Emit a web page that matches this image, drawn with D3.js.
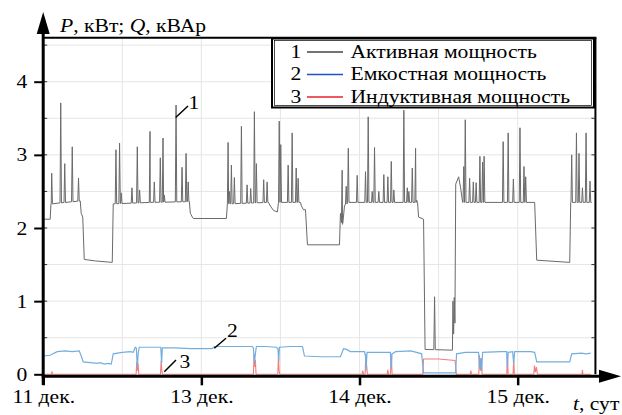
<!DOCTYPE html>
<html><head><meta charset="utf-8">
<script src="https://cdn.jsdelivr.net/npm/d3@7"></script>
<style>body{margin:0;background:#fff}</style></head>
<body><svg id="c" width="622" height="415"></svg>
<script>
// ---- data (time in hours from 11 дек. 00:00, power in kW / kVAr) ----
const xTickHours = [0, 24, 48, 72];
const xTickLabels = ["11 дек.", "13 дек.", "14 дек.", "15 дек."];
const yTicks = [0, 1, 2, 3, 4];
const legendNums = ["1", "2", "3"];
const legendLabels = ["Активная мощность", "Емкостная мощность", "Индуктивная мощность"];

// active power: base level
const activeBase = [[0,2.12],[1.06,2.12],[1.22,2.33],[5.62,2.37],[5.77,2.2],[6.0,2.15],[6.23,1.57],[7.9,1.55],[10.48,1.53],[10.63,2.33],[16.25,2.35],[22.18,2.36],[22.33,2.2],[22.63,2.15],[22.79,2.13],[27.8,2.13],[27.95,2.33],[34.18,2.35],[34.48,2.3],[34.94,2.24],[35.54,2.22],[35.7,2.35],[39.04,2.35],[39.19,2.3],[39.49,2.25],[39.8,2.25],[40.1,1.77],[44.96,1.77],[45.11,2.2],[45.42,2.05],[45.72,2.3],[46.18,2.35],[56.81,2.35],[56.96,2.15],[57.72,2.12],[57.95,0.34],[62.1,0.33],[62.18,1.0],[62.28,0.55],[62.38,1.05],[62.48,0.7],[62.6,2.6],[63.04,2.7],[63.34,2.55],[63.65,2.35],[74.58,2.35],[74.89,1.56],[79.9,1.53],[80.05,2.35],[83.24,2.35]];
// active power: short peaks [time, peak]
const activeSpikes = [[1.29,2.75],[2.66,3.71],[3.27,2.88],[4.41,3.11],[5.36,2.68],[11.04,3.07],[11.59,3.16],[11.85,2.48],[13.47,2.55],[14.28,3.11],[14.63,2.52],[16.21,3.32],[16.86,2.63],[17.77,2.96],[18.18,3.23],[18.38,2.45],[20.16,3.68],[21.07,2.83],[21.68,3.02],[22.0,2.63],[28.06,3.17],[28.25,2.5],[28.56,2.86],[29.01,2.69],[30.08,3.39],[30.94,2.59],[31.49,2.54],[32.05,3.59],[32.35,2.88],[33.46,2.66],[33.98,2.63],[35.82,3.46],[36.05,3.14],[37.17,2.86],[37.78,3.3],[38.39,2.82],[38.69,2.68],[45.37,2.79],[45.98,2.57],[46.3,3.09],[47.65,2.72],[48.91,2.77],[49.32,3.52],[49.93,2.5],[50.28,3.1],[50.93,2.5],[51.69,2.73],[52.3,2.7],[52.82,2.91],[53.21,2.52],[54.73,3.61],[55.25,2.55],[55.49,2.5],[56.01,2.82],[56.51,3.09],[56.68,2.38],[59.39,1.06],[63.82,2.84],[64.05,3.48],[64.71,2.68],[65.27,2.63],[65.7,2.62],[66.27,2.98],[66.68,2.9],[66.91,2.98],[69.8,3.18],[70.56,3.3],[71.35,2.67],[72.35,3.37],[72.96,2.84],[73.22,2.7],[80.2,3.0],[80.92,3.3],[81.31,3.02],[81.83,2.55],[82.38,3.3],[82.98,2.64]];

// capacitive reactive power
const capacitive = [[0,0.25],[1.06,0.26],[1.67,0.29],[2.13,0.31],[3.34,0.32],[4.41,0.31],[5.47,0.32],[5.77,0.25],[6.08,0.17],[7.14,0.16],[8.2,0.15],[8.66,0.16],[9.27,0.14],[9.87,0.15],[10.33,0.14],[10.63,0.28],[11.99,0.3],[13.22,0.31],[13.67,0.3],[13.97,0.37],[14.13,0.36],[14.28,0.1],[14.43,0.3],[14.58,0.37],[16.25,0.37],[17.77,0.37],[17.85,0.36],[17.97,0.15],[18.08,0.36],[20.0,0.36],[22.33,0.35],[23.85,0.35],[25.67,0.35],[25.97,0.38],[28.41,0.38],[31.74,0.38],[31.9,0.36],[32.05,0.15],[32.2,0.28],[32.35,0.38],[33.72,0.38],[35.39,0.37],[35.62,0.35],[35.74,0.18],[35.85,0.37],[37.52,0.38],[39.34,0.38],[39.65,0.25],[42.08,0.24],[45.11,0.24],[45.57,0.35],[46.03,0.34],[46.63,0.31],[48.76,0.31],[48.91,0.25],[48.99,0.05],[49.14,0.3],[51.2,0.3],[52.67,0.3],[52.82,0.08],[52.94,0.28],[53.47,0.31],[55.75,0.32],[56.66,0.3],[57.42,0.28],[57.72,0.02],[60.3,0.02],[62.58,0.02],[62.73,0.28],[64.1,0.3],[66.07,0.3],[66.23,0.08],[66.38,0.22],[66.53,0.05],[66.68,0.3],[69.42,0.31],[70.33,0.31],[70.43,0.1],[70.56,0.3],[71.24,0.31],[71.39,0.15],[71.54,0.31],[74.0,0.31],[74.58,0.3],[74.89,0.17],[78.54,0.17],[79.9,0.17],[80.2,0.28],[81.68,0.29],[82.38,0.28],[83.09,0.29]];

// inductive reactive power
const inductive = [[0,0],[1.25,0],[1.32,0.04],[1.4,0],[14.1,0],[14.2,0.17],[14.3,0.05],[14.4,0.15],[14.5,0],[17.8,0],[17.9,0.19],[18.0,0.05],[18.1,0],[31.9,0],[32.0,0.28],[32.1,0.1],[32.2,0.2],[32.3,0],[35.6,0],[35.7,0.25],[35.8,0.05],[35.9,0],[48.4,0],[48.5,0.05],[48.6,0],[48.85,0],[48.95,0.28],[49.1,0.1],[49.2,0],[52.2,0],[52.3,0.06],[52.4,0],[52.7,0],[52.8,0.28],[52.95,0],[57.6,0],[57.72,0.21],[60.0,0.21],[62.5,0.19],[62.7,0],[64.8,0],[64.9,0.05],[65.0,0],[66.1,0],[66.2,0.26],[66.35,0.05],[66.5,0.22],[66.6,0],[70.35,0],[70.45,0.26],[70.55,0],[71.3,0],[71.4,0.2],[71.5,0],[74.45,0],[74.55,0.12],[74.7,0.03],[74.85,0.1],[75.0,0],[81.75,0],[81.83,0.06],[81.9,0],[83.1,0]];

// ---- drawing ----
const FONT = "'Liberation Serif'";
const svg = d3.select("#c");
const SX = 1.2;
const x = d3.scaleLinear().domain([0, 84.1]).range([43.2, 597.4]);
const y = d3.scaleLinear().domain([0, 4]).range([374.3, 81.7]);
const yTop = 4.6;
const xL = x(0), xR = x(83.8), yB = y(0), yT = y(yTop);

function txt(g, px, py, anchor) {
  return g.append("text").attr("transform", `translate(${px},${py}) scale(${SX},1)`)
    .attr("text-anchor", anchor).style("font-family", FONT).style("font-size", "18px").attr("fill", "#000");
}

// grid
const grid = svg.append("g").attr("stroke", "#e6e6e6").attr("stroke-width", 1);
d3.range(0.5, 4.6, 0.5).forEach(v => grid.append("line").attr("x1", xL).attr("x2", xR).attr("y1", y(v)).attr("y2", y(v)));
d3.range(12, 84, 12).forEach(h => grid.append("line").attr("x1", x(h)).attr("x2", x(h)).attr("y1", yT).attr("y2", yB));

// build active series from base + spikes
const baseAt = t => {
  const i = d3.bisector(d => d[0]).right(activeBase, t);
  if (i <= 0) return activeBase[0][1];
  if (i >= activeBase.length) return activeBase[activeBase.length - 1][1];
  const a = activeBase[i - 1], b = activeBase[i];
  return a[1] + (b[1] - a[1]) * (t - a[0]) / (b[0] - a[0]);
};
const active = activeBase.slice();
activeSpikes.forEach(([t, p]) => {
  const b = baseAt(t);
  active.push([t - 0.11, b], [t, p], [t + 0.11, b]);
});
active.sort((a, b) => a[0] - b[0]);

const line = d3.line().x(d => x(d[0])).y(d => y(d[1]));
svg.append("path").datum(inductive).attr("d", line).attr("fill", "none").attr("stroke", "#f27f7f").attr("stroke-width", 1.1);
svg.append("path").datum(capacitive).attr("d", line).attr("fill", "none").attr("stroke", "#74aedd").attr("stroke-width", 1.2);
svg.append("path").datum(active).attr("d", line).attr("fill", "none").attr("stroke", "#6a6a6a").attr("stroke-width", 1);

// frame (top, right)
svg.append("line").attr("x1", xL).attr("x2", xR + 1).attr("y1", yT).attr("y2", yT).attr("stroke", "#000").attr("stroke-width", 2);
svg.append("line").attr("x1", xR).attr("x2", xR).attr("y1", yT).attr("y2", yB).attr("stroke", "#000").attr("stroke-width", 2);

// minor inner ticks
const minor = svg.append("g").attr("stroke", "#333").attr("stroke-width", 1);
d3.range(0.5, 4.6, 0.5).forEach(v => {
  minor.append("line").attr("x1", xL).attr("x2", xL + 4).attr("y1", y(v)).attr("y2", y(v));
  minor.append("line").attr("x1", xR - 4).attr("x2", xR).attr("y1", y(v)).attr("y2", y(v));
});

// y axis
const yAxis = d3.axisLeft(y).tickValues(yTicks).tickSize(9).tickPadding(8).tickFormat(d3.format("d"));
const gy = svg.append("g").attr("transform", `translate(${xL},0)`).call(yAxis).attr("font-family", null).attr("font-size", null);
gy.select(".domain").remove();
gy.selectAll(".tick line").attr("stroke", "#000").attr("stroke-width", 2);
gy.selectAll(".tick text").style("font-family", FONT).style("font-size", "18px")
  .attr("transform", `scale(${SX},1)`).attr("x", -16 / SX).attr("dy", "0.34em");

// x axis
const xAxis = d3.axisBottom(x).tickValues(xTickHours).tickSize(10).tickPadding(6).tickFormat((d, i) => xTickLabels[i]);
const gx = svg.append("g").attr("transform", `translate(0,${yB + 1})`).call(xAxis).attr("font-family", null).attr("font-size", null);
gx.select(".domain").remove();
gx.selectAll(".tick line").attr("stroke", "#000").attr("stroke-width", 2.5);
gx.selectAll(".tick text").style("font-family", FONT).style("font-size", "18px")
  .attr("transform", `scale(${SX},1)`).attr("y", 28).attr("dy", null);

// axis lines with arrows
svg.append("line").attr("x1", xL).attr("x2", xL).attr("y1", 385).attr("y2", 30).attr("stroke", "#000").attr("stroke-width", 3);
svg.append("path").attr("d", `M${xL},12 L${xL - 6.5},34 L${xL + 6.5},34 Z`).attr("fill", "#000");
svg.append("line").attr("x1", xL - 1.5).attr("x2", 602).attr("y1", yB + 2).attr("y2", yB + 2).attr("stroke", "#000").attr("stroke-width", 3);
svg.append("path").attr("d", `M621,${yB + 2} L599,${yB - 4.5} L599,${yB + 8.5} Z`).attr("fill", "#000");

// axis titles
const yl = txt(svg, 60, 31.5, "start");
yl.append("tspan").attr("font-style", "italic").text("P");
yl.append("tspan").text(", кВт; ");
yl.append("tspan").attr("font-style", "italic").text("Q");
yl.append("tspan").text(", кВАр");
const xlab = txt(svg, 573, 410, "start");
xlab.append("tspan").attr("font-style", "italic").text("t");
xlab.append("tspan").text(", сут");

// annotations
const ann = svg.append("g").attr("stroke", "#000").attr("stroke-width", 1.5);
ann.append("line").attr("x1", 175.7).attr("y1", 117.5).attr("x2", 188).attr("y2", 106);
ann.append("line").attr("x1", 214.3).attr("y1", 348.3).attr("x2", 226).attr("y2", 338.3);
ann.append("line").attr("x1", 164.3).attr("y1", 371.7).attr("x2", 176).attr("y2", 360);
txt(svg, 194, 109, "middle").text("1");
txt(svg, 232.5, 336.5, "middle").text("2");
txt(svg, 185, 368, "middle").text("3");

// legend
const lg = svg.append("g");
lg.append("rect").attr("x", 272).attr("y", 38.5).attr("width", 322).attr("height", 69).attr("fill", "#fff").attr("stroke", "#000").attr("stroke-width", 2);
lg.append("rect").attr("x", 274.5).attr("y", 40.5).attr("width", 317).attr("height", 65).attr("fill", "none").attr("stroke", "#000").attr("stroke-width", 0.7);
const legendColors = ["#444", "#1f4fd0", "#e8202a"];
legendLabels.forEach((lab, i) => {
  const cy = 52 + i * 22.5;
  txt(lg, 296, cy + 5.5, "middle").text(legendNums[i]);
  lg.append("line").attr("x1", 307).attr("x2", 343).attr("y1", cy).attr("y2", cy).attr("stroke", legendColors[i]).attr("stroke-width", 1.5);
  txt(lg, 350.5, cy + 5.5, "start").text(lab);
});
</script></body></html>
